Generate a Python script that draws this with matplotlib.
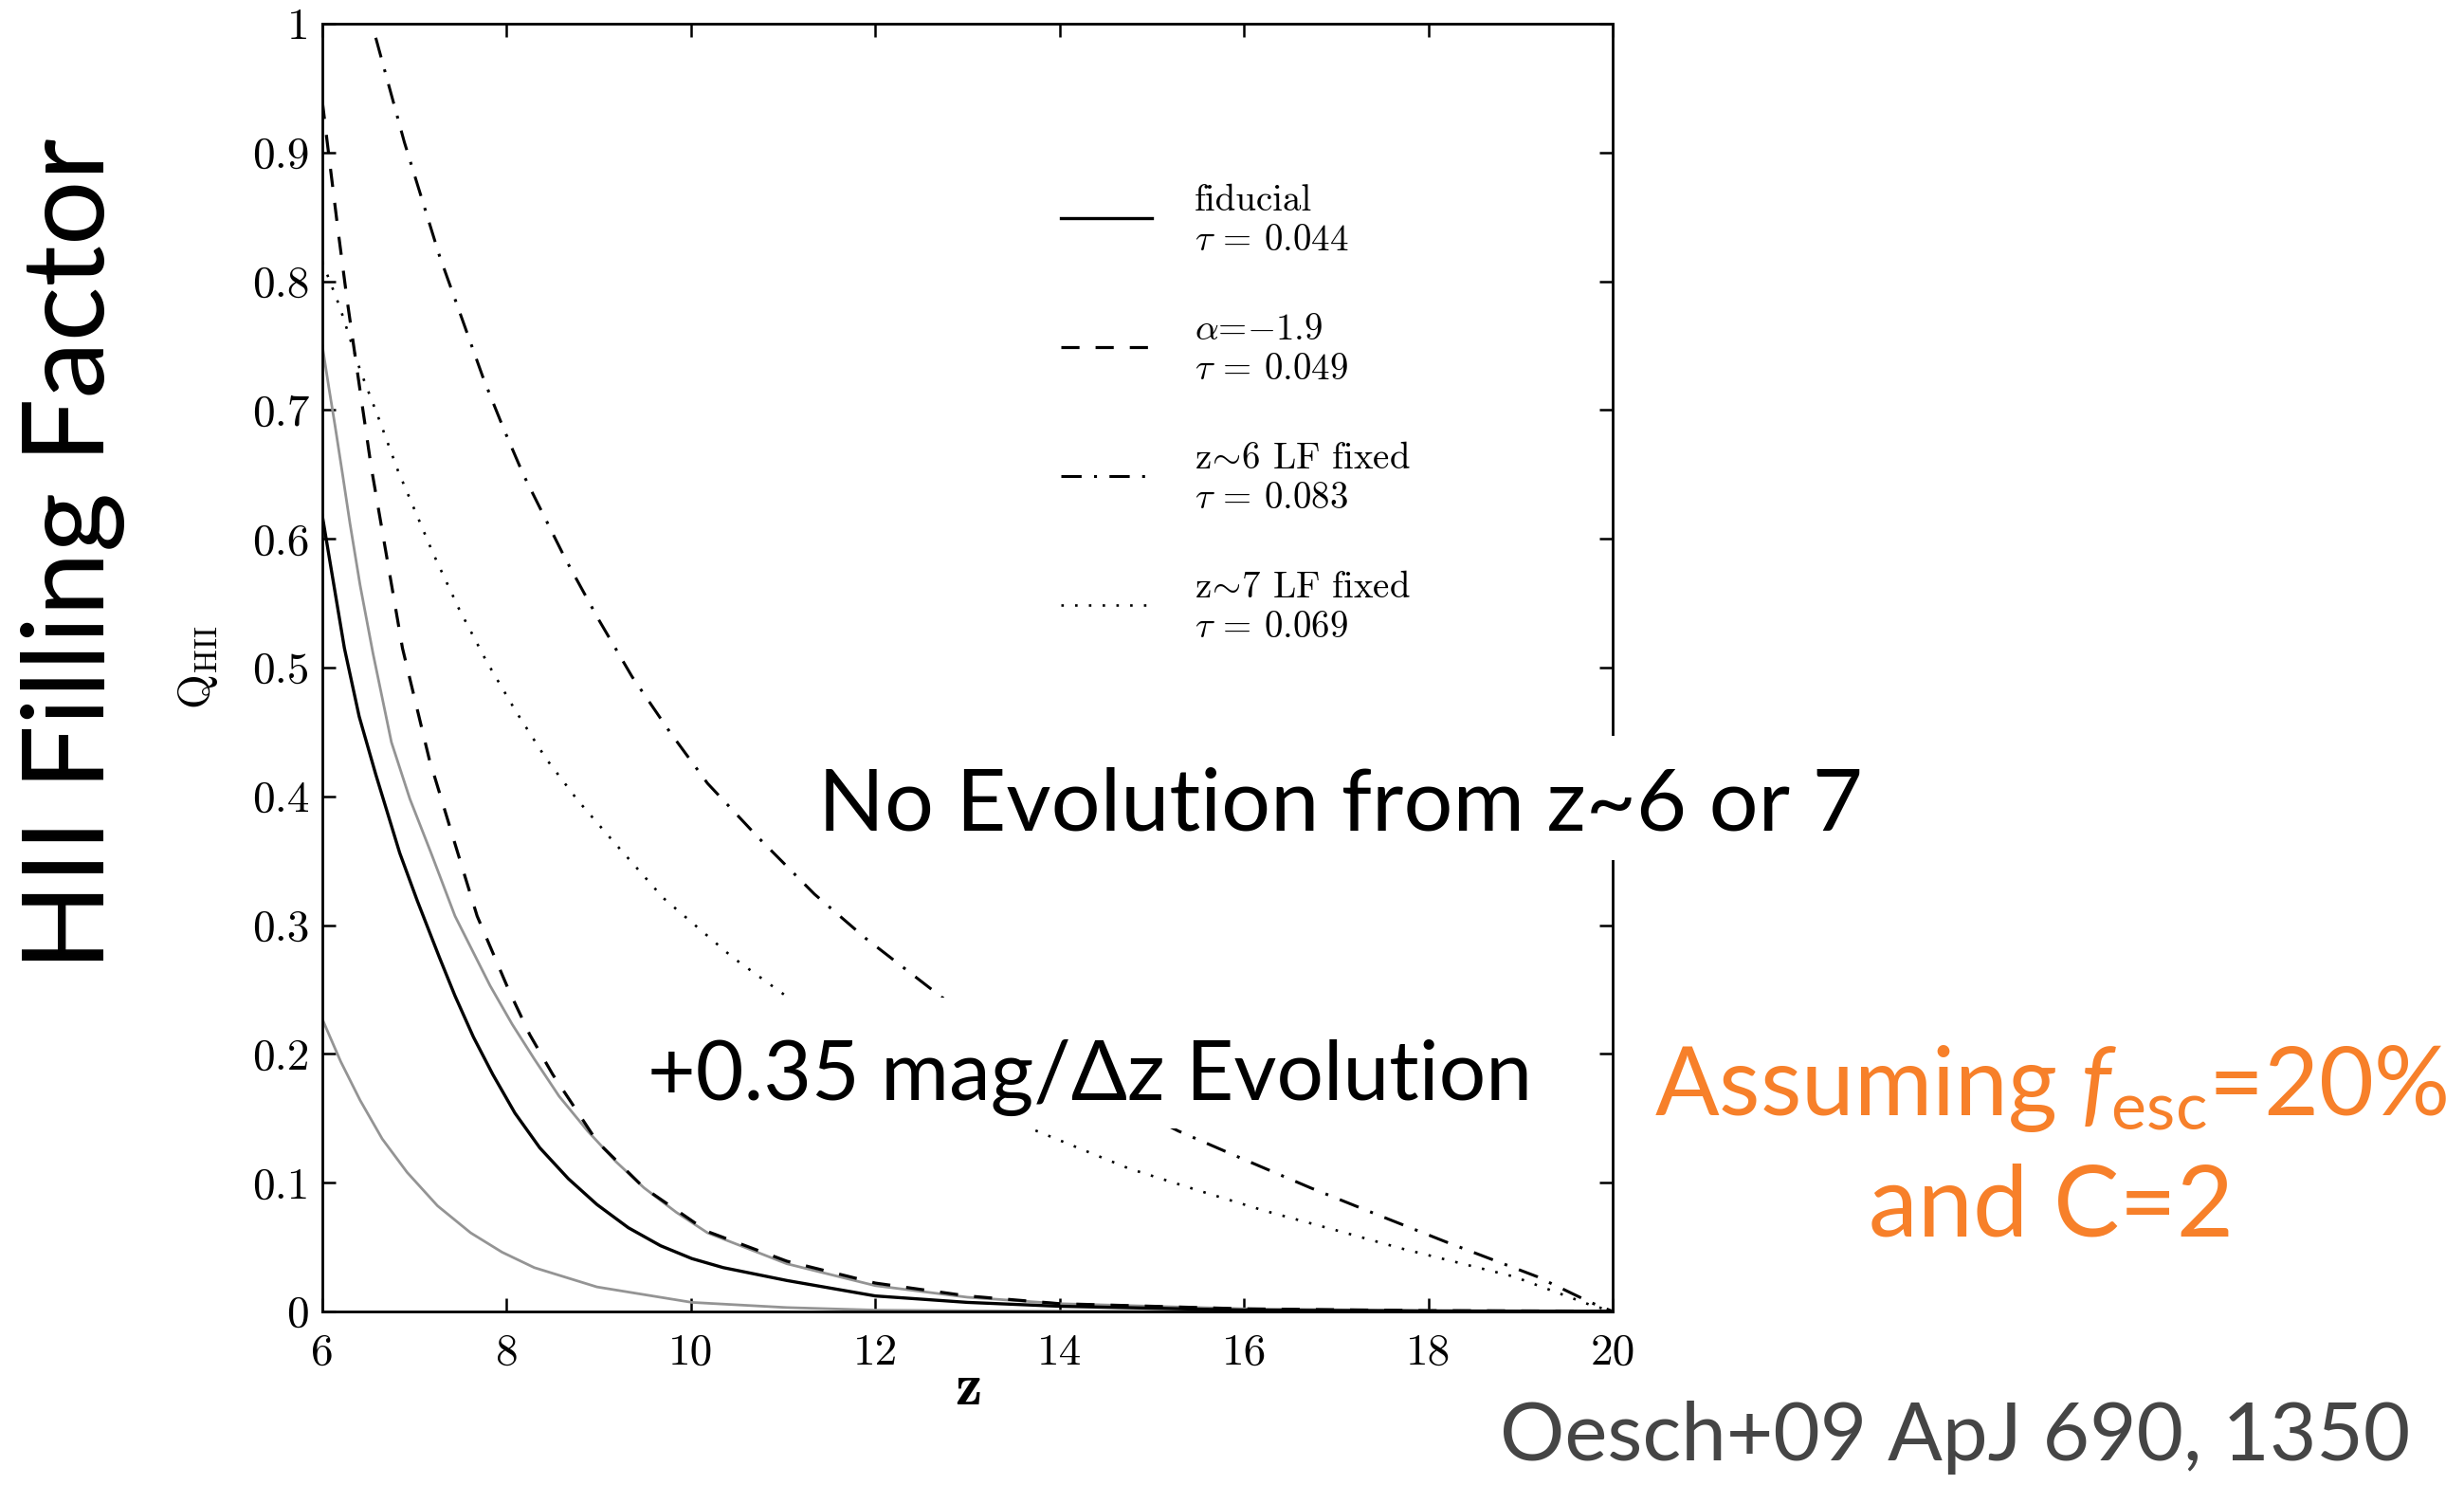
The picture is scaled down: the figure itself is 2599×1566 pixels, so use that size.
import matplotlib
matplotlib.use('Agg')
import matplotlib.pyplot as plt
from matplotlib.patches import Rectangle
from matplotlib.ticker import FuncFormatter

plt.rcParams['font.family'] = 'serif'
plt.rcParams['font.serif'] = ['cmr10']
plt.rcParams['mathtext.fontset'] = 'cm'
# fonts for text that asks for math_fontfamily='custom'
plt.rcParams['mathtext.rm'] = 'Lato'
plt.rcParams['mathtext.it'] = 'Lato:italic'
plt.rcParams['axes.unicode_minus'] = False

# HII filling factor vs redshift (Oesch+09, f_esc=20%, C=2)
z_fid = [6.0, 6.1, 6.24, 6.4, 6.58, 6.84, 7.03, 7.27, 7.44, 7.64, 7.85, 8.09, 8.36, 8.67,
         8.98, 9.32, 9.67, 10.01, 10.35, 11.04, 12.0, 13.0, 14.0, 16.0, 18.0, 20.0]
q_fid = [0.618, 0.575, 0.515, 0.462, 0.417, 0.356, 0.319, 0.275, 0.245, 0.213, 0.184, 0.154, 0.127, 0.103,
         0.083, 0.065, 0.051, 0.041, 0.034, 0.024, 0.012, 0.007, 0.004, 0.001, 0.0003, 0.0001]

z_alpha = [6.0, 6.05, 6.17, 6.27, 6.41, 6.53, 6.67, 6.87, 7.16, 7.47, 7.68, 8.02, 8.25, 8.50,
           8.75, 8.98, 9.49, 10.18, 11.04, 12.0, 13.0, 14.0, 16.0, 18.0, 20.0]
q_alpha = [0.940, 0.910, 0.840, 0.785, 0.715, 0.656, 0.598, 0.515, 0.429, 0.356, 0.307, 0.250, 0.215, 0.184,
           0.157, 0.132, 0.096, 0.062, 0.039, 0.022, 0.012, 0.006, 0.002, 0.0006, 0.0002]

z_lf6 = [6.58, 6.89, 7.27, 7.75, 7.97, 8.18, 8.64, 9.0, 9.36, 9.77, 10.18, 10.73, 11.34, 11.89,
         12.72, 13.5, 14.4, 15.29, 16.0, 16.72, 17.45, 18.19, 19.18, 19.76, 20.0]
q_lf6 = [0.989, 0.908, 0.820, 0.724, 0.685, 0.650, 0.584, 0.537, 0.493, 0.450, 0.410, 0.368, 0.324, 0.290,
         0.244, 0.208, 0.172, 0.140, 0.118, 0.096, 0.075, 0.054, 0.027, 0.007, 0.0]

z_lf7 = [6.0, 6.19, 6.41, 6.62, 6.82, 7.20, 7.48, 7.78, 8.1, 8.43, 8.77, 9.12, 9.70, 10.45, 11.03,
         12.0, 13.0, 13.72, 14.75, 15.5, 16.23, 17.0, 17.70, 18.93, 19.76, 20.0]
q_lf7 = [0.815, 0.780, 0.731, 0.692, 0.653, 0.589, 0.546, 0.505, 0.466, 0.429, 0.397, 0.368, 0.321, 0.275, 0.245,
         0.202, 0.165, 0.141, 0.111, 0.094, 0.078, 0.063, 0.049, 0.027, 0.005, 0.0]

# grey curves
z_grey_hi = [6.0, 6.07, 6.14, 6.22, 6.3, 6.41, 6.55, 6.75, 6.95, 7.18, 7.44, 7.82, 8.06, 8.30, 8.57,
             8.88, 9.19, 9.49, 9.84, 10.18, 11.04, 12.0, 13.0, 14.0, 16.0, 18.0, 20.0]
q_grey_hi = [0.750, 0.718, 0.687, 0.650, 0.612, 0.564, 0.511, 0.442, 0.398, 0.356, 0.307, 0.253, 0.223, 0.196, 0.167,
             0.140, 0.116, 0.096, 0.077, 0.061, 0.037, 0.020, 0.011, 0.006, 0.002, 0.0006, 0.0002]

z_grey_lo = [6.0, 6.2, 6.41, 6.65, 6.92, 7.25, 7.61, 7.95, 8.30, 8.98, 10.01, 11.04, 12.0, 13.0, 14.0,
             16.0, 20.0]
q_grey_lo = [0.227, 0.194, 0.164, 0.134, 0.108, 0.082, 0.061, 0.046, 0.034, 0.019, 0.007, 0.003, 0.001,
             0.0005, 0.0002, 0.0, 0.0]

model_names = ['fiducial', '$\\alpha$=$-$1.9', 'z$\\!\\sim\\!$6 LF fixed', 'z$\\!\\sim\\!$7 LF fixed']
model_tau = ['0.044', '0.049', '0.083', '0.069']

z_ticks = [6, 8, 10, 12, 14, 16, 18, 20]
q_ticks = [0, 0.1, 0.2, 0.3, 0.4, 0.5, 0.6, 0.7, 0.8, 0.9, 1.0]

orange = '#F7802A'

styles = [dict(color='k', lw=2.4),
          dict(color='k', lw=2.3, dashes=(6, 5.3)),
          dict(color='k', lw=2.2, dashes=(7, 4.3, 1, 4.3)),
          dict(color='k', lw=1.9, dashes=(1, 4.5))]

fig = plt.figure(figsize=(25.99, 15.66), dpi=100)
ax = fig.add_axes([0.1308, 0.1169, 0.5237, 0.8672])

ax.plot(z_grey_lo, q_grey_lo, color='0.58', lw=2.0)
ax.plot(z_grey_hi, q_grey_hi, color='0.58', lw=2.0)
ax.plot(z_fid, q_fid, **styles[0])
ax.plot(z_alpha, q_alpha, **styles[1])
ax.plot(z_lf6, q_lf6, **styles[2])
ax.plot(z_lf7, q_lf7, **styles[3])

ax.set_xlim(6, 20)
ax.set_ylim(0, 1)
ax.set_xticks(z_ticks)
ax.set_yticks(q_ticks)
ax.xaxis.set_major_formatter(FuncFormatter(lambda v, p: '%g' % v))
ax.yaxis.set_major_formatter(FuncFormatter(lambda v, p: '%g' % v))
ax.tick_params(direction='in', length=10, width=1.8, top=True, right=True, labelsize=34)
ax.tick_params(axis='x', pad=17)
ax.tick_params(axis='y', pad=10)
for s in ax.spines.values():
    s.set_linewidth(2)

ax.set_xlabel(r'$\mathbf{z}$', fontsize=46, labelpad=-9)
ax.set_ylabel(r'$\mathrm{Q_{HII}}$', fontsize=34, labelpad=24)

# key: short line sample, model name above, optical depth below
key_top, key_step = 0.8488, 0.1001
for i, st in enumerate(styles):
    y = key_top - i * key_step
    ax.plot([0.5724, 0.6429], [y, y], transform=ax.transAxes, clip_on=False, **st)
    ax.text(0.676, y + 0.0059, model_names[i], transform=ax.transAxes, va='baseline', fontsize=28)
    ax.text(0.676, y - 0.025, '$\\tau$ = ' + model_tau[i], transform=ax.transAxes,
            va='baseline', fontsize=28)

# slide annotations; white panels sit behind the two captions over the plot
fig.add_artist(Rectangle((0.327, 0.4208), 0.4329, 0.0837, transform=fig.transFigure,
                         fc='white', ec='none', zorder=1))
fig.add_artist(Rectangle((0.257, 0.2401), 0.372, 0.0881, transform=fig.transFigure,
                         fc='white', ec='none', zorder=1))

fig.text(0.0296, 0.627, 'HII Filling Factor', rotation=90, ha='center', va='center',
         fontsize=87, family='Lato')
fig.text(1414 / 2599, 1 - 876 / 1566, 'No Evolution from z~6 or 7', ha='center', va='baseline',
         fontsize=66, family=['Lato', 'DejaVu Sans'])
fig.text(1150 / 2599, 1 - 1160 / 1566, '+0.35 mag/\u0394z Evolution', ha='center', va='baseline',
         fontsize=63, family=['Lato', 'Open Sans', 'DejaVu Sans'])
fig.text(2163 / 2599, 1 - 1176 / 1566, r'Assuming $\mathit{f}_{\mathrm{esc}}$=20%', ha='center',
         va='baseline', fontsize=72, color=orange, family='Lato', math_fontfamily='custom')
fig.text(2164 / 2599, 1 - 1303 / 1566, 'and C=2', ha='center', va='baseline',
         fontsize=75, color=orange, family='Lato')
fig.text(2062 / 2599, 1 - 1540 / 1566, 'Oesch+09 ApJ 690, 1350', ha='center', va='baseline',
         fontsize=61.5, color='#454545', family='Lato')

fig.savefig('out.png', dpi=100)
